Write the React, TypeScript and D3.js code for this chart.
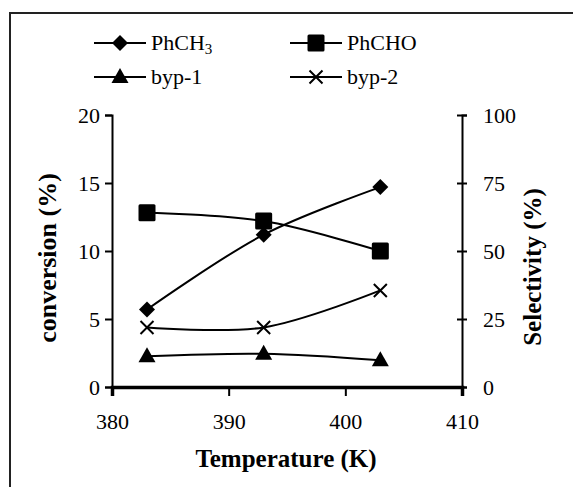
import React, { useEffect, useRef } from "react";
import * as d3 from "d3";

const temps = [383, 393, 403];
const phch3 = [5.7, 11.2, 14.7]; // conversion (%), left axis
const phcho = [64.1, 61.0, 50.0]; // selectivity (%), right axis
const byp1 = [11.3, 12.2, 9.8];
const byp2 = [21.9, 21.9, 35.5];
const xTicks = [380, 390, 400, 410];
const leftTicks = [0, 5, 10, 15, 20];
const rightTicks = [0, 25, 50, 75, 100];

const W = 573, H = 487;
const FONT = "'Liberation Serif', 'Times New Roman', serif";

function drawMarker(g: any, type: string, x: number, y: number) {
  if (type === "diamond") {
    g.append("path").attr("d", `M${x},${y - 8}L${x + 8},${y}L${x},${y + 8}L${x - 8},${y}Z`)
      .attr("fill", "#000");
  } else if (type === "square") {
    g.append("rect").attr("x", x - 8.5).attr("y", y - 8.5)
      .attr("width", 17).attr("height", 17).attr("rx", 1.5).attr("fill", "#000");
  } else if (type === "triangle") {
    g.append("path").attr("d", `M${x},${y - 9}L${x + 8.5},${y + 6}L${x - 8.5},${y + 6}Z`)
      .attr("fill", "#000");
  } else {
    g.append("path").attr("d", `M${x - 6.5},${y - 6.5}L${x + 6.5},${y + 6.5}M${x + 6.5},${y - 6.5}L${x - 6.5},${y + 6.5}`)
      .attr("stroke", "#000").attr("stroke-width", 2).attr("fill", "none");
  }
}

export default function App() {
  const ref = useRef<SVGSVGElement>(null);

  useEffect(() => {
    document.body.style.margin = "0";
    const svg = d3.select(ref.current);
    svg.selectAll("*").remove();

    const left = 112, right = 462, top = 115, bottom = 387;

    const x = d3.scaleLinear().domain([380, 410]).range([left, right]);
    const yL = d3.scaleLinear().domain([0, 20]).range([bottom, top]);
    const yR = d3.scaleLinear().domain([0, 100]).range([bottom, top]);

    // outer frame
    svg.append("rect").attr("x", 10).attr("y", 13).attr("width", W).attr("height", H)
      .attr("fill", "none").attr("stroke", "#222").attr("stroke-width", 2);

    // left axis
    const gl = svg.append("g").attr("transform", `translate(${left},0)`)
      .call(d3.axisLeft(yL).tickValues(leftTicks).tickSize(7).tickPadding(5));
    // right axis (cross ticks)
    const gr = svg.append("g").attr("transform", `translate(${right},0)`)
      .call(d3.axisRight(yR).tickValues(rightTicks).tickSize(5).tickPadding(16));
    gr.selectAll(".tick line").attr("x1", -5);
    // x axis
    const gx = svg.append("g").attr("transform", `translate(0,${bottom})`)
      .call(d3.axisBottom(x).tickValues(xTicks).tickSize(9).tickPadding(17));

    [gl, gr, gx].forEach(g => {
      g.attr("font-family", null).attr("font-size", null)
        .style("font-family", FONT).style("font-size", "22px");
      g.select(".domain").attr("stroke", "#000").attr("stroke-width", 2);
      g.selectAll(".tick line").attr("stroke", "#000").attr("stroke-width", 2);
      g.selectAll(".tick text").style("font-family", FONT).style("font-size", "22px").attr("fill", "#000");
    });
    gx.select(".domain").attr("stroke-width", 3.5);
    gl.selectAll(".tick text").attr("dy", "0.34em");
    gr.selectAll(".tick text").attr("dy", "0.34em");
    gx.selectAll(".tick text").attr("dy", "0.71em");

    // series
    const series = [
      { name: "PhCH\u2083", vals: phch3, y: yL, m: "diamond" },
      { name: "PhCHO", vals: phcho, y: yR, m: "square" },
      { name: "byp-1", vals: byp1, y: yR, m: "triangle" },
      { name: "byp-2", vals: byp2, y: yR, m: "x" },
    ];
    const plot = svg.append("g");
    series.forEach(s => {
      const line = d3.line<number>().x((d, i) => x(temps[i])).y(d => s.y(d))
        .curve(d3.curveCatmullRom.alpha(0.5));
      plot.append("path").attr("d", line(s.vals)).attr("fill", "none")
        .attr("stroke", "#000").attr("stroke-width", 2);
      s.vals.forEach((v, i) => drawMarker(plot, s.m, x(temps[i]), s.y(v)));
    });

    // legend
    const legPos = [[94, 43], [290, 43], [94, 77], [290, 77]];
    series.forEach((s, i) => {
      const [lx, ly] = legPos[i];
      const lg = svg.append("g");
      lg.append("line").attr("x1", lx).attr("x2", lx + 52).attr("y1", ly).attr("y2", ly)
        .attr("stroke", "#000").attr("stroke-width", 2);
      drawMarker(lg, s.m, lx + 26, ly);
      const t = lg.append("text").attr("x", lx + 57).attr("y", ly + 7)
        .style("font-family", FONT).style("font-size", "22px");
      if (i === 0) {
        t.append("tspan").text("PhCH");
        t.append("tspan").style("font-size", "15px").attr("dy", 4).text("3");
      } else {
        t.text(s.name);
      }
    });

    // axis titles
    svg.append("text").attr("x", 286).attr("y", 467).attr("text-anchor", "middle")
      .style("font-family", FONT).style("font-size", "25px").attr("font-weight", "bold")
      .text("Temperature (K)");
    svg.append("text").attr("transform", "translate(56,258) rotate(-90)")
      .attr("text-anchor", "middle").style("font-family", FONT).style("font-size", "26px")
      .attr("font-weight", "bold").text("conversion (%)");
    svg.append("text").attr("transform", "translate(541,267) rotate(-90)")
      .attr("text-anchor", "middle").style("font-family", FONT).style("font-size", "25px")
      .attr("font-weight", "bold").text("Selectivity (%)");
  }, []);

  return <svg ref={ref} width={W} height={H} style={{ display: "block", background: "#fff" }} />;
}
